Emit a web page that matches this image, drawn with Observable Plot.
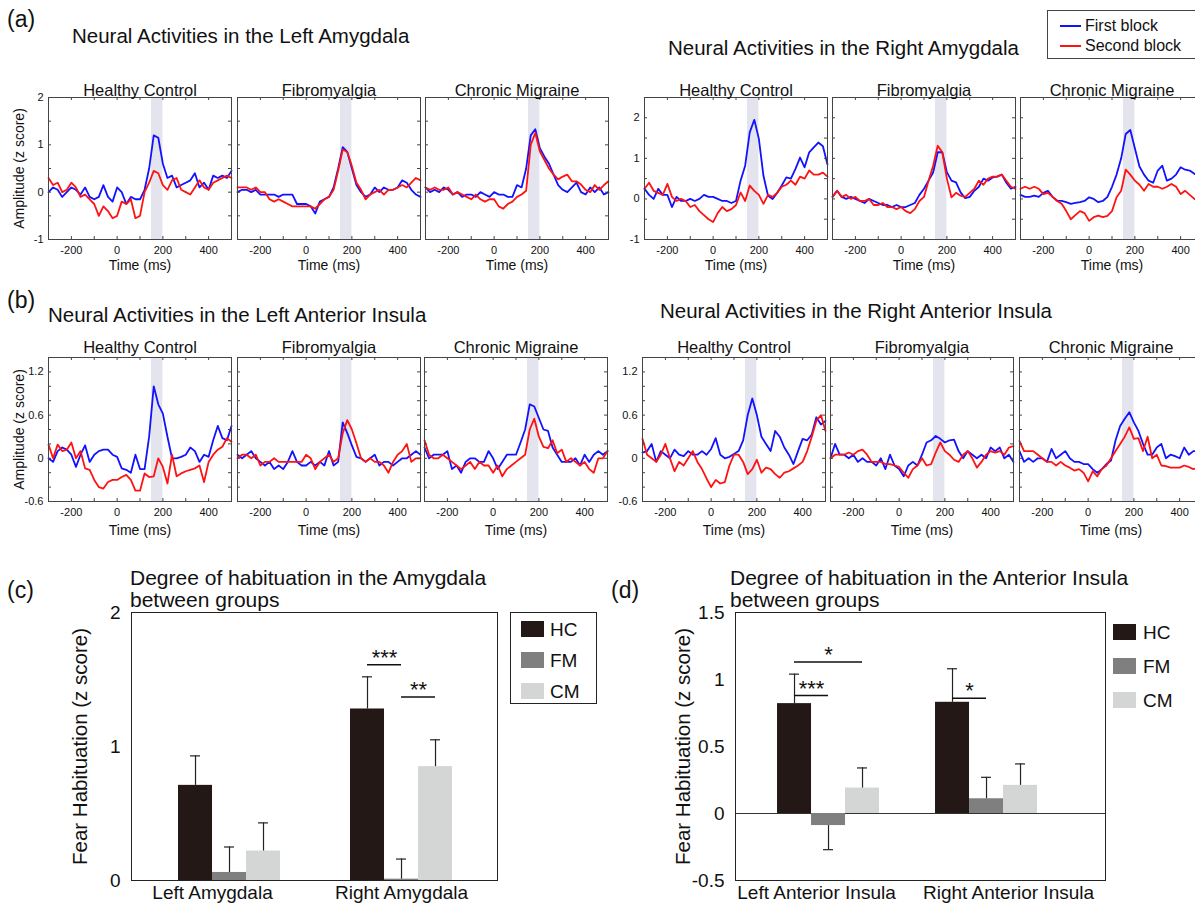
<!DOCTYPE html>
<html><head><meta charset="utf-8">
<script src="https://cdn.jsdelivr.net/npm/d3@7"></script>
<script src="https://cdn.jsdelivr.net/npm/@observablehq/plot@0.6"></script>
<style>
body{margin:0;background:#fff;}
#root{position:relative;width:1195px;height:910px;overflow:hidden;background:#fff;font-family:'Liberation Sans',Arial,sans-serif;color:#111;}
.lbl{position:absolute;white-space:nowrap;line-height:1;}
.abs{position:absolute;}
</style></head><body><div id="root"></div>
<script>
// ---------------- DATA ----------------
const time = [-300,-280,-260,-240,-220,-200,-180,-160,-140,-120,-100,-80,-60,-40,-20,0,20,40,60,80,100,120,140,160,180,200,220,240,260,280,300,320,340,360,380,400,420,440,460,480,500];
const shadeWindow = [{start: 150, end: 200}];
const xLabelTicks = [-200, 0, 200, 400];
const xMinorTicks = [-200, -100, 0, 100, 200, 300, 400];

// (a) Left amygdala: first block (_1) and second block (_2)
const amyL_HC_1 = [0.0,0.1,0.05,-0.1,0.0,0.1,0.05,-0.05,0.1,-0.1, -0.15,-0.1,0.15,-0.1,-0.2,0.1,0.0,-0.25,-0.1,-0.15, -0.15,0.05,0.5,1.2,1.15,0.6,0.3,0.35,0.1,0.15, 0.2,0.25,0.4,0.1,0.2,0.05,0.35,0.3,0.35,0.3, 0.45];
const amyL_HC_2 = [0.3,0.15,0.2,0.0,0.05,0.2,0.1,-0.1,-0.05,-0.15, -0.25,-0.5,-0.3,-0.4,-0.55,-0.5,-0.2,-0.25,-0.15,-0.55, -0.5,0.0,0.2,0.45,0.4,0.15,0.05,0.25,0.3,0.05, 0.0,-0.05,0.1,0.25,0.1,0.05,0.2,0.25,0.3,0.35, 0.3];
const amyL_FM_1 = [0.0,0.05,0.05,0.0,0.05,-0.05,-0.05,-0.05,-0.05,-0.1, -0.05,-0.05,-0.05,-0.25,-0.25,-0.25,-0.3,-0.45,-0.2,-0.15, -0.1,0.1,0.5,0.95,0.85,0.5,0.15,0.0,-0.1,-0.05, 0.1,0.0,0.1,0.05,0.05,0.1,0.25,0.2,0.05,-0.05, -0.1];
const amyL_FM_2 = [0.1,0.1,0.1,0.05,0.1,0.0,0.0,-0.15,-0.2,-0.15, -0.2,-0.25,-0.3,-0.3,-0.3,-0.3,-0.3,-0.35,-0.25,-0.15, -0.1,0.05,0.45,0.9,0.85,0.55,0.2,0.05,-0.15,-0.05, 0.0,0.05,-0.05,0.05,0.05,0.1,0.15,0.1,0.2,0.3, 0.25];
const amyL_CM_1 = [0.1,0.0,0.05,0.0,0.1,0.05,-0.05,0.0,-0.1,-0.05, -0.05,-0.1,0.0,-0.05,-0.1,0.0,-0.05,-0.05,-0.1,-0.1, 0.15,0.1,0.5,1.2,1.33,0.93,0.75,0.6,0.37,0.15, 0.05,0.0,0.1,0.2,0.0,-0.05,0.1,0.0,0.1,-0.05, 0.0];
const amyL_CM_2 = [0.1,0.05,0.1,0.05,0.05,0.1,-0.05,0.0,-0.05,-0.1, -0.15,-0.05,-0.15,-0.2,-0.15,-0.15,-0.3,-0.35,-0.25,-0.2, -0.1,-0.05,0.03,1.0,1.25,0.86,0.68,0.5,0.37,0.27, 0.33,0.37,0.23,0.23,0.16,0.05,0.0,0.15,0.05,0.15, 0.23];
// (a) Right amygdala
const amyR_HC_1 = [0.25,0.1,0.0,0.25,0.1,0.1,-0.2,0.05,-0.05,-0.05, 0.0,-0.05,0.0,0.1,0.05,0.05,0.0,-0.05,-0.05,-0.1, -0.05,0.45,0.82,1.64,1.95,1.48,0.57,0.08,0.0,0.15, 0.33,0.53,0.5,0.74,1.02,0.78,1.15,1.27,1.39,1.3, 0.85];
const amyR_HC_2 = [0.25,0.4,0.2,0.15,0.1,0.37,0.05,-0.05,0.0,-0.05, -0.2,-0.15,-0.3,-0.4,-0.5,-0.57,-0.35,-0.2,-0.3,-0.25, -0.15,0.16,-0.05,0.33,0.2,0.1,-0.12,0.1,0.05,0.15, 0.3,0.35,0.45,0.35,0.55,0.5,0.7,0.6,0.6,0.65, 0.55];
const amyR_FM_1 = [0.05,0.2,0.05,0.0,0.05,0.0,-0.05,-0.1,0.0,-0.05, -0.1,-0.15,-0.15,-0.2,-0.15,-0.2,-0.2,-0.15,-0.1,0.1, 0.25,0.45,0.65,1.15,1.15,0.66,0.45,0.41,0.16,0.02, 0.05,0.2,0.3,0.5,0.45,0.53,0.55,0.6,0.4,0.25, 0.3];
const amyR_FM_2 = [0.05,0.2,0.05,0.1,0.0,0.05,-0.05,-0.05,0.0,-0.15, -0.15,-0.1,-0.2,-0.2,-0.25,-0.2,-0.3,-0.35,-0.25,-0.05, 0.05,0.45,0.82,1.31,1.15,0.5,0.04,0.15,0.08,0.05, 0.15,0.25,0.45,0.35,0.5,0.55,0.55,0.6,0.45,0.3, 0.25];
const amyR_CM_1 = [0.1,0.05,0.05,0.08,0.05,0.15,0.2,0.05,-0.04,-0.05, -0.08,-0.12,-0.1,-0.08,-0.05,0.04,0.0,-0.08,-0.05,0.05, 0.3,0.6,1.0,1.6,1.7,1.25,0.8,0.6,0.45,0.4, 0.7,0.82,0.45,0.5,0.6,0.78,0.72,0.7,0.62,0.55, 0.6];
const amyR_CM_2 = [0.25,0.3,0.25,0.3,0.25,0.12,0.15,0.05,-0.05,-0.12, -0.3,-0.5,-0.4,-0.3,-0.35,-0.54,-0.45,-0.41,-0.45,-0.42, -0.3,0.04,0.2,0.72,0.6,0.45,0.35,0.2,0.37,0.3, 0.3,0.25,0.3,0.37,0.3,0.12,0.2,0.1,0.0,-0.05, -0.1];
// (b) Left anterior insula
const insL_HC_1 = [0.0,-0.05,0.1,0.15,0.12,0.05,-0.12,0.05,0.18,-0.05, 0.05,0.1,0.12,0.12,0.05,0.02,-0.14,-0.16,-0.2,0.05, -0.15,-0.15,0.3,1.0,0.75,0.62,0.3,0.0,0.0,0.02, 0.05,0.15,0.1,-0.05,0.05,0.02,0.25,0.45,0.28,0.25, 0.45];
const insL_HC_2 = [0.19,0.0,0.19,0.1,0.12,0.22,0.0,0.1,-0.14,-0.16, -0.3,-0.4,-0.42,-0.33,-0.3,-0.3,-0.26,-0.23,-0.3,-0.45, -0.45,-0.21,-0.26,-0.25,0.0,-0.12,-0.35,0.05,-0.25,-0.21, -0.18,-0.16,-0.14,-0.1,-0.33,-0.05,0.05,0.12,0.16,0.28, 0.23];
const insL_FM_1 = [0.05,0.0,0.05,0.1,0.0,-0.05,-0.1,-0.05,-0.15,-0.1, -0.15,-0.05,0.1,-0.05,-0.1,-0.1,-0.05,-0.1,-0.05,-0.1, 0.1,-0.1,-0.05,0.5,0.35,0.18,0.02,0.0,-0.05,0.0, 0.05,-0.1,-0.05,-0.05,-0.1,-0.05,0.0,0.0,0.05,0.1, 0.05];
const insL_FM_2 = [0.0,0.05,0.05,0.0,0.05,-0.1,-0.05,-0.05,0.0,-0.05, -0.05,-0.05,-0.05,-0.05,-0.05,0.05,0.0,-0.15,-0.05,0.0, 0.05,-0.05,0.0,0.35,0.53,0.4,0.21,0.0,-0.05,0.0, -0.05,-0.05,-0.1,-0.2,-0.05,0.05,0.1,0.2,-0.05,0.0, 0.0];
const insL_CM_1 = [0.15,0.0,0.05,0.05,0.05,0.1,-0.15,-0.1,-0.2,-0.05, 0.0,0.0,-0.05,-0.05,0.1,0.0,-0.15,-0.05,0.05,0.05, 0.05,0.22,0.4,0.75,0.72,0.56,0.4,0.38,0.15,0.05, -0.05,-0.05,-0.05,0.0,-0.1,0.05,-0.05,0.05,0.1,0.05, 0.1];
const insL_CM_2 = [0.25,0.05,0.0,0.0,0.05,0.0,-0.05,-0.1,-0.15,-0.1, -0.05,-0.15,-0.05,-0.1,-0.1,-0.2,-0.1,-0.25,-0.15,-0.1, -0.05,0.0,0.05,0.4,0.55,0.3,0.16,0.14,0.25,0.07, 0.12,-0.05,0.0,-0.05,-0.1,-0.05,-0.15,-0.2,0.0,0.0, 0.1];
// (b) Right anterior insula
const insR_HC_1 = [0.08,0.1,0.2,-0.05,0.1,0.05,0.0,0.12,0.05,0.03, 0.1,0.05,0.05,0.1,0.05,0.13,0.28,0.05,0.0,0.02, 0.06,0.1,0.25,0.6,0.83,0.6,0.3,0.2,0.1,0.38, 0.3,0.15,0.05,-0.08,0.1,0.27,0.25,0.33,0.57,0.47, 0.52];
const insR_HC_2 = [0.27,0.05,0.0,-0.05,0.05,0.2,0.0,-0.18,-0.05,-0.1, 0.0,0.1,-0.05,-0.15,-0.28,-0.4,-0.3,-0.35,-0.33,-0.1, 0.05,0.05,-0.05,-0.22,-0.15,-0.02,-0.2,-0.13,-0.15,-0.22, -0.27,-0.2,-0.18,-0.14,-0.1,-0.05,0.1,0.3,0.52,0.6, 0.38];
const insR_FM_1 = [0.0,0.2,0.05,0.05,0.0,0.05,-0.05,0.0,-0.05,-0.05, -0.1,0.0,-0.15,0.05,-0.1,-0.15,-0.25,-0.1,-0.05,-0.1, 0.05,0.22,0.25,0.31,0.27,0.22,0.25,0.26,0.1,0.0, 0.1,0.05,0.0,0.05,0.0,0.15,0.1,0.15,0.0,0.05, -0.05];
const insR_FM_2 = [0.0,0.05,0.05,0.05,0.08,0.05,0.1,0.12,0.05,-0.05, -0.05,-0.05,-0.08,-0.08,-0.1,-0.12,-0.2,-0.27,-0.15,-0.1, 0.0,-0.1,-0.08,0.08,0.22,0.1,0.05,-0.02,-0.05,0.05, 0.1,0.0,-0.13,-0.05,0.05,0.1,0.08,0.1,0.05,0.15, 0.17];
const insR_CM_1 = [0.1,-0.05,0.0,-0.05,0.0,0.0,-0.05,0.13,0.0,0.05, 0.1,0.0,-0.05,-0.05,-0.08,-0.08,-0.15,-0.2,-0.15,-0.08, -0.03,0.25,0.45,0.55,0.64,0.5,0.38,0.2,0.05,0.05, 0.15,0.2,0.0,0.05,0.03,0.0,0.15,0.05,0.1,0.1, 0.1];
const insR_CM_2 = [0.24,0.1,0.1,0.1,0.05,0.0,-0.05,-0.05,-0.1,-0.05, -0.1,-0.13,-0.17,-0.15,-0.2,-0.32,-0.18,-0.25,-0.15,-0.1, 0.0,0.1,0.2,0.3,0.43,0.27,0.28,0.1,0.3,0.0, 0.05,-0.1,-0.11,-0.13,-0.13,-0.13,-0.1,-0.12,-0.15,-0.13, -0.12];

const panelTitles = ["Healthy Control", "Fibromyalgia", "Chronic Migraine"];
const yA_L = {domain: [-1, 2], labels: [-1, 0, 1, 2], minor: [-1, -0.5, 0, 0.5, 1, 1.5, 2]};
const yA_R = {domain: [-1, 2.5], labels: [-1, 0, 1, 2], minor: [-1, -0.5, 0, 0.5, 1, 1.5, 2, 2.5]};
const yB = {domain: [-0.6, 1.4], labels: [-0.6, 0, 0.6, 1.2], minor: [-0.6, -0.4, -0.2, 0, 0.2, 0.4, 0.6, 0.8, 1.0, 1.2, 1.4]};

// (c) and (d) bar charts
const groups = ["HC", "FM", "CM"];
const barColors = ["#231815", "#7f7f7f", "#d4d6d6"];
const cRegions = ["Left Amygdala", "Right Amygdala"];
const cRegionLabelShift = [-17, 0];
const cHC = [0.71, 1.28], cHCerr = [0.22, 0.24];
const cFM = [0.06, 0.01], cFMerr = [0.19, 0.15];
const cCM = [0.22, 0.85], cCMerr = [0.21, 0.20];
const cSigRegion = ["Right Amygdala", "Right Amygdala"];
const cSigY = [1.61, 1.37];
const cSigFrom = [0, 1], cSigTo = [1, 2];
const cSigLabel = ["***", "**"];

const dRegions = ["Left Anterior Insula", "Right Anterior Insula"];
const dRegionLabelShift = [-12, 22];
const dHC = [0.82, 0.83], dHCerr = [0.22, 0.25];
const dFM = [-0.09, 0.11], dFMerr = [0.18, 0.16];
const dCM = [0.19, 0.21], dCMerr = [0.15, 0.16];
const dSigRegion = ["Left Anterior Insula", "Left Anterior Insula", "Right Anterior Insula"];
const dSigY = [1.13, 0.88, 0.86];
const dSigFrom = [0, 0, 0], dSigTo = [2, 1, 1];
const dSigLabel = ["*", "***", "*"];

// ---------------- RENDER ----------------
const root = document.getElementById("root");
const FONT = "'Liberation Sans', Arial, sans-serif";

function label(text, x, yc, size, extra = {}) {
  const d = document.createElement("div");
  d.className = "lbl";
  d.textContent = text;
  d.style.left = x + "px";
  d.style.top = (yc - size / 2) + "px";
  d.style.fontSize = size + "px";
  Object.assign(d.style, extra);
  root.appendChild(d);
  return d;
}
function box(x, y, w, h, style) {
  const d = document.createElement("div");
  d.className = "abs";
  Object.assign(d.style, {left: x + "px", top: y + "px", width: w + "px", height: h + "px"}, style);
  root.appendChild(d);
  return d;
}
function place(svg, left, top) {
  svg.style.position = "absolute";
  svg.style.left = left + "px";
  svg.style.top = top + "px";
  root.appendChild(svg);
}

function linePanel(cfg) {
  const {title, first, second, frameLeft, frameTop, frameH, yc, showYTicks, showYLabel, titleDy, timeDy} = cfg;
  if (first.length !== time.length || second.length !== time.length) throw new Error("length mismatch " + title + " " + first.length + " " + second.length);
  const W = 183, ml = 60, mr = 12, mt = 30, mb = 45;
  const rows = time.map((t, i) => ({t, first: first[i], second: second[i]}));
  const marks = [
    Plot.rect(shadeWindow, {x1: "start", x2: "end", fill: "#e3e4ee"}),
    Plot.line(rows, {x: "t", y: "first", stroke: "#1212ff", strokeWidth: 1.8}),
    Plot.line(rows, {x: "t", y: "second", stroke: "#ff1212", strokeWidth: 1.8}),
    Plot.tickX(xMinorTicks, {x: d => d, insetTop: frameH - 3, stroke: "#444"}),
    Plot.tickX(xMinorTicks, {x: d => d, insetBottom: frameH - 3, stroke: "#444"}),
    Plot.tickY(yc.minor, {y: d => d, insetRight: W - 3, stroke: "#444"}),
    Plot.tickY(yc.minor, {y: d => d, insetLeft: W - 3, stroke: "#444"}),
    Plot.frame({stroke: "#444"}),
    Plot.text([title], {text: d => d, frameAnchor: "top", textAnchor: "middle", dy: titleDy, fontSize: 16.5}),
    Plot.text(["Time (ms)"], {text: d => d, frameAnchor: "bottom", textAnchor: "middle", dy: timeDy, fontSize: 14})
  ];
  if (showYLabel) marks.push(Plot.text(["Amplitude (z score)"], {text: d => d, frameAnchor: "left", textAnchor: "middle", rotate: -90, dx: -29, fontSize: 14}));
  const svg = Plot.plot({
    width: ml + W + mr, height: mt + frameH + mb,
    marginLeft: ml, marginRight: mr, marginTop: mt, marginBottom: mb,
    style: {background: "transparent", fontFamily: FONT, fontSize: "11px", color: "#111", overflow: "visible"},
    x: {domain: [-300, 500], ticks: xLabelTicks, tickSize: 0, tickPadding: 7, tickFormat: d => String(d), label: null},
    y: {domain: yc.domain, axis: showYTicks ? "left" : null, ticks: yc.labels, tickSize: 0, tickPadding: 5, tickFormat: d => String(d), label: null},
    marks
  });
  place(svg, frameLeft - ml, frameTop - mt);
}

const rowA = {frameTop: 97, frameH: 142, titleDy: -13, timeDy: 30};
const rowB = {frameTop: 357, frameH: 144, titleDy: -16, timeDy: 33};
const sets = [
  {row: rowA, yc: yA_L, lefts: [48, 237, 425], data: [[amyL_HC_1, amyL_HC_2], [amyL_FM_1, amyL_FM_2], [amyL_CM_1, amyL_CM_2]], ylabel: true},
  {row: rowA, yc: yA_R, lefts: [644, 832, 1020], data: [[amyR_HC_1, amyR_HC_2], [amyR_FM_1, amyR_FM_2], [amyR_CM_1, amyR_CM_2]], ylabel: false},
  {row: rowB, yc: yB, lefts: [48, 237, 424], data: [[insL_HC_1, insL_HC_2], [insL_FM_1, insL_FM_2], [insL_CM_1, insL_CM_2]], ylabel: true},
  {row: rowB, yc: yB, lefts: [642, 830, 1019], data: [[insR_HC_1, insR_HC_2], [insR_FM_1, insR_FM_2], [insR_CM_1, insR_CM_2]], ylabel: false}
];
for (const s of sets) {
  s.data.forEach(([f, sec], k) => linePanel({
    title: panelTitles[k], first: f, second: sec, frameLeft: s.lefts[k],
    frameTop: s.row.frameTop, frameH: s.row.frameH, yc: s.yc,
    showYTicks: k === 0, showYLabel: k === 0 && s.ylabel,
    titleDy: s.row.titleDy, timeDy: s.row.timeDy
  }));
}

function barPanel(cfg) {
  const {regions, labelShift, means, errs, left, top, ml, mr, frameW, yDomain, yTicks, band, sig, zeroLine, ylabelDx} = cfg;
  const BW = 102, BAR = BW / 3;
  const rows = [];
  groups.forEach((g, gi) => regions.forEach((r, ri) => {
    const m = means[gi][ri], e = errs[gi][ri];
    rows.push({region: r, group: g, gi, mean: m, end: m >= 0 ? m + e : m - e});
  }));
  const sigRows = sig.region.map((r, i) => ({region: r, y: sig.y[i], from: sig.from[i], to: sig.to[i], label: sig.label[i]}));
  const marks = [];
  if (zeroLine) marks.push(Plot.ruleY([0], {stroke: "#333", strokeWidth: 1}));
  groups.forEach((g, gi) => {
    const sub = rows.filter(d => d.gi === gi);
    marks.push(Plot.barY(sub, {x: "region", y: "mean", fill: barColors[gi], insetLeft: gi * BAR, insetRight: (2 - gi) * BAR}));
  });
  groups.forEach((g, gi) => {
    const sub = rows.filter(d => d.gi === gi);
    marks.push(Plot.ruleX(sub, {x: "region", y1: "mean", y2: "end", dx: (gi - 1) * BAR, stroke: "#222", strokeWidth: 1.2}));
    marks.push(Plot.tickY(sub, {x: "region", y: "end", insetLeft: (gi + 0.5) * BAR - 5, insetRight: BW - (gi + 0.5) * BAR - 5, stroke: "#222", strokeWidth: 1.2}));
  });
  sigRows.forEach(s => {
    marks.push(Plot.tickY([s], {x: "region", y: "y", insetLeft: (s.from + 0.5) * BAR, insetRight: BW - (s.to + 0.5) * BAR, stroke: "#111", strokeWidth: 1.5}));
    marks.push(Plot.text([s], {x: "region", y: "y", text: "label", dx: ((s.from + s.to) / 2 - 1) * BAR, dy: -7, fontSize: 22}));
  });
  regions.forEach((r, ri) => {
    marks.push(Plot.text([r], {x: d => d, text: d => d, frameAnchor: "bottom", dy: 18, dx: labelShift[ri], fontSize: 19}));
  });
  marks.push(Plot.frame({stroke: "#222"}));
  marks.push(Plot.text(["Fear Habituation (z score)"], {text: d => d, frameAnchor: "left", textAnchor: "middle", rotate: -90, dx: ylabelDx, fontSize: 20.5}));
  const mt = 12, mb = 30, frameH = 268;
  const svg = Plot.plot({
    width: ml + frameW + mr, height: mt + frameH + mb,
    marginLeft: ml, marginRight: mr, marginTop: mt, marginBottom: mb,
    style: {background: "transparent", fontFamily: FONT, fontSize: "19px", color: "#111", overflow: "visible"},
    x: {domain: regions, paddingInner: band.pi, paddingOuter: band.po, align: band.align, round: false, axis: null},
    y: {domain: yDomain, ticks: yTicks, tickSize: 0, tickPadding: 11, tickFormat: d => String(d), label: null},
    marks
  });
  place(svg, left, top);
}

barPanel({
  regions: cRegions, labelShift: cRegionLabelShift, means: [cHC, cFM, cCM], errs: [cHCerr, cFMerr, cCMerr],
  left: 0, top: 600, ml: 131, mr: 103, frameW: 366, yDomain: [0, 2], yTicks: [0, 1, 2],
  band: {pi: 0.40698, po: 0.26744, align: 0.511},
  sig: {region: cSigRegion, y: cSigY, from: cSigFrom, to: cSigTo, label: cSigLabel},
  zeroLine: false, ylabelDx: -51
});
barPanel({
  regions: dRegions, labelShift: dRegionLabelShift, means: [dHC, dFM, dCM], errs: [dHCerr, dFMerr, dCMerr],
  left: 600, top: 600, ml: 135, mr: 90, frameW: 370, yDomain: [-0.5, 1.5], yTicks: [-0.5, 0, 0.5, 1, 1.5],
  band: {pi: 0.35443, po: 0.3481, align: 0.382},
  sig: {region: dSigRegion, y: dSigY, from: dSigFrom, to: dSigTo, label: dSigLabel},
  zeroLine: true, ylabelDx: -52
});

// ---------------- TEXT & LEGENDS ----------------
label("(a)", 7, 19, 23);
label("(b)", 7, 300, 23);
label("(c)", 7, 590, 23);
label("(d)", 611, 590, 23);
label("Neural Activities in the Left Amygdala", 72, 36, 20.5);
label("Neural Activities in the Right Amygdala", 668, 48, 20.5);
label("Neural Activities in the Left Anterior Insula", 48, 315, 20.5);
label("Neural Activities in the Right Anterior Insula", 660, 311, 20.5);
label("Degree of habituation in the Amygdala", 130, 577, 21);
label("between groups", 130, 599, 21);
label("Degree of habituation in the Anterior Insula", 730, 577, 21);
label("between groups", 730, 599, 21);

// line legend
box(1047, 10, 150, 49, {border: "1px solid #444", boxSizing: "border-box", background: "#fff"});
const lineLegend = [["First block", "#1212ff", 26], ["Second block", "#ff1212", 46]];
for (const [t, c, y] of lineLegend) {
  box(1060, y - 1, 21, 2, {background: c});
  label(t, 1085, y, 16);
}
// bar legends
box(510, 612, 87, 92, {border: "1px solid #222", boxSizing: "border-box"});
groups.forEach((g, gi) => {
  const yc1 = 629 + gi * 31;
  box(521, yc1 - 8, 23, 16, {background: barColors[gi]});
  label(g, 550, yc1, 19);
  const yc2 = 632 + gi * 34;
  box(1113, yc2 - 8, 23, 16, {background: barColors[gi]});
  label(g, 1143, yc2, 19);
});
</script></body></html>
